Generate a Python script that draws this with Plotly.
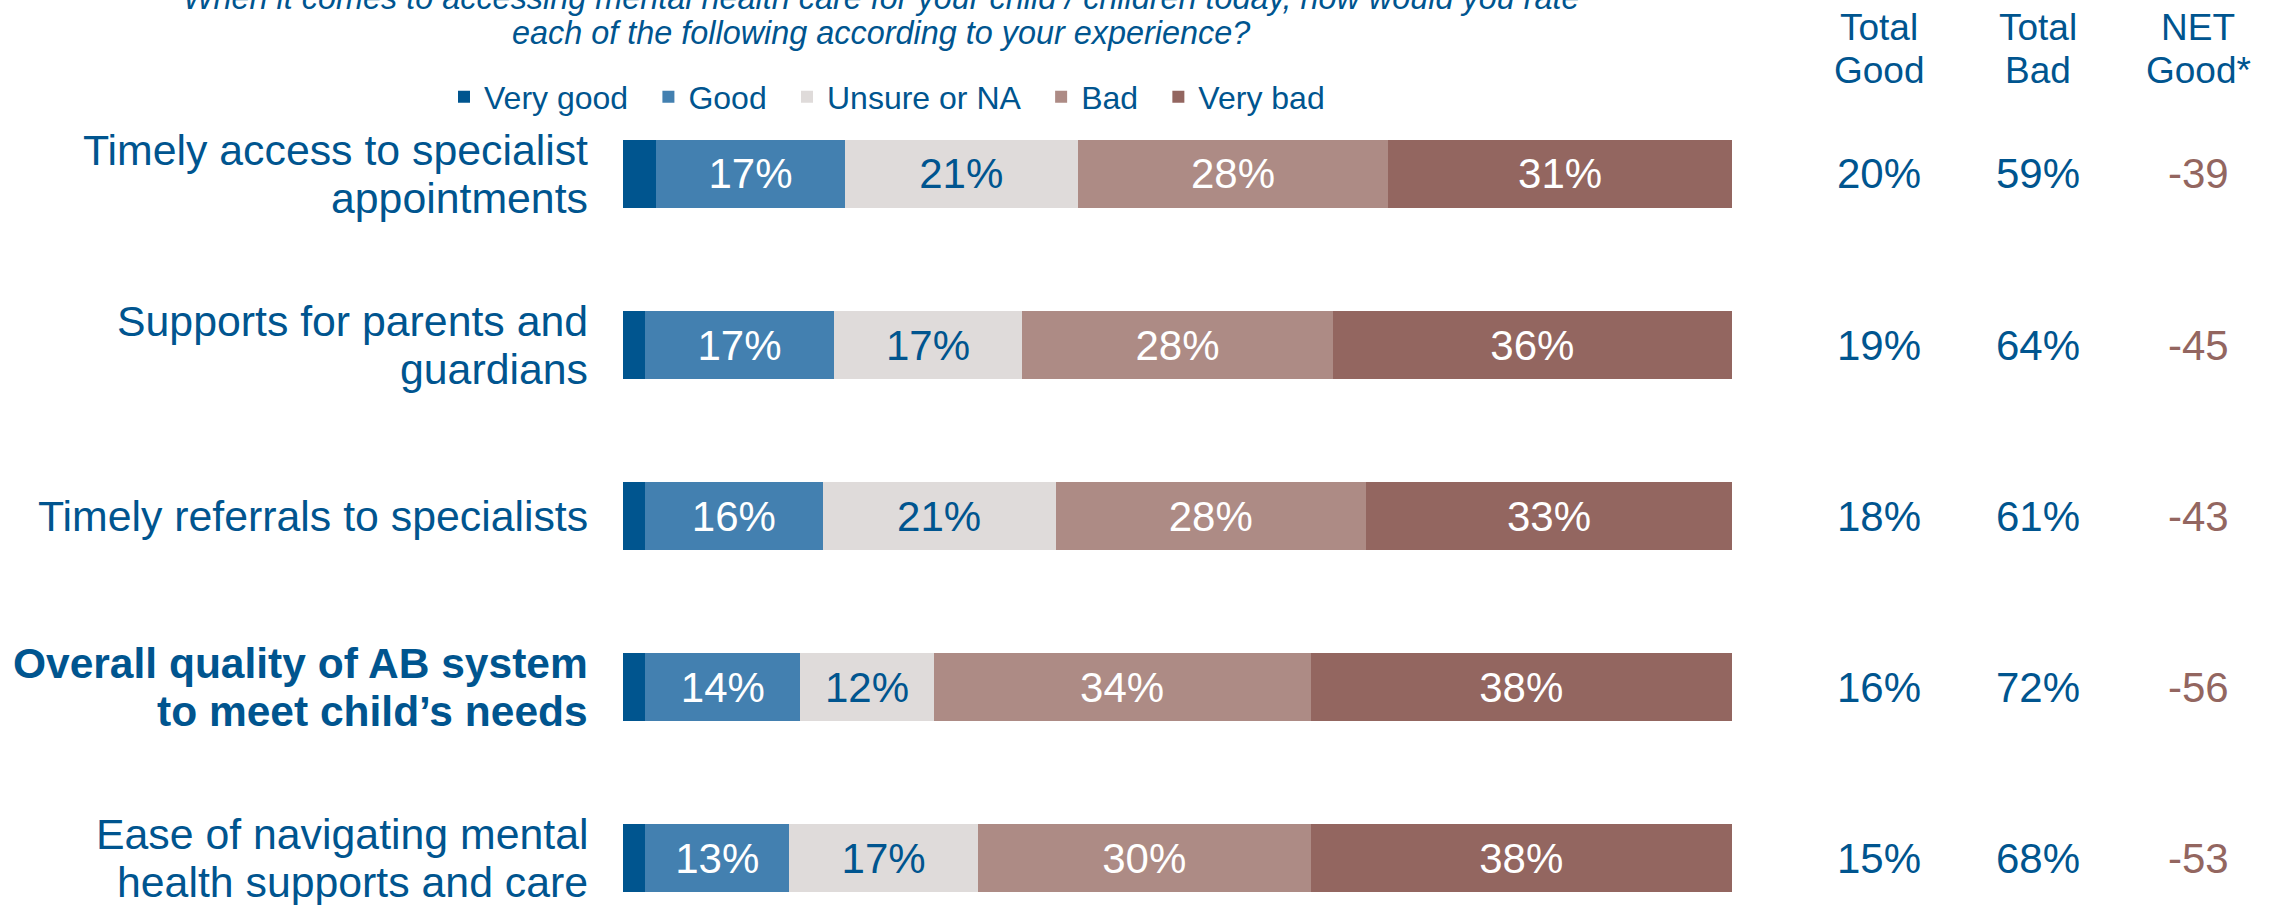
import plotly.graph_objects as go

# Survey items (top to bottom)
items = [
    ["Timely access to specialist", "appointments"],
    ["Supports for parents and", "guardians"],
    ["Timely referrals to specialists"],
    ["Overall quality of AB system", "to meet child’s needs"],
    ["Ease of navigating mental", "health supports and care"],
]
highlight = [False, False, False, True, False]

# Response shares (%)
very_good = [3, 2, 2, 2, 2]
good = [17, 17, 16, 14, 13]
unsure = [21, 17, 21, 12, 17]
bad = [28, 28, 28, 34, 30]
very_bad = [31, 36, 33, 38, 38]

series_names = ["Very good", "Good", "Unsure or NA", "Bad", "Very bad"]
series_values = [very_good, good, unsure, bad, very_bad]
series_colors = ["#00558F", "#4380B0", "#DFDBDA", "#AD8B85", "#936660"]
label_colors = [None, "#FFFFFF", "#00558F", "#FFFFFF", "#FFFFFF"]

title_lines = [
    "When it comes to accessing mental health care for your child / children today, how would you rate",
    "each of the following according to your experience?",
]
column_headers = [["Total", "Good"], ["Total", "Bad"], ["NET", "Good*"]]

BLUE = "#00558F"
BROWN = "#936660"
FONT = "Arial, Liberation Sans, sans-serif"

W, H = 2274, 905
ML, MR, MT, MB = 623, 542, 130, 0
plot_h = H - MT - MB


def py(pixel_y):
    """Convert a pixel row (from top) to paper y."""
    return (H - MB - pixel_y) / plot_h


def px(pixel_x):
    """Convert a pixel column to paper x."""
    return (pixel_x - ML) / (W - ML - MR)


cats = list(range(len(items)))
GAP = "\u00a0\u2009"

fig = go.Figure()
for k, (name, vals, col, lcol) in enumerate(zip(series_names, series_values, series_colors, label_colors)):
    legend_name = name if k == len(series_names) - 1 else name + GAP
    fig.add_trace(go.Bar(
        y=cats,
        x=vals,
        name=legend_name,
        orientation="h",
        marker=dict(color=col, line=dict(width=0)),
        text=[f"{v}%" for v in vals] if lcol else None,
        textposition="inside" if lcol else "none",
        insidetextanchor="middle",
        textangle=0,
        textfont=dict(size=42, color=lcol or "#FFFFFF", family=FONT),
        hoverinfo="skip",
    ))

annotations = []

# Category labels, one annotation per line
for i, lines in enumerate(items):
    shifts = [0] if len(lines) == 1 else [24, -24]
    for line, sh in zip(lines, shifts):
        txt = f"<b>{line}</b>" if highlight[i] else line
        annotations.append(dict(
            x=px(590), xref="paper", y=i, yref="y",
            text=txt, showarrow=False, xanchor="right", yanchor="middle",
            yshift=sh, font=dict(size=42.5 if highlight[i] else 42.8, color=BLUE, family=FONT),
        ))

# Summary columns
col_x = [px(1879), px(2038), px(2198)]
for i in cats:
    tg = very_good[i] + good[i]
    tb = bad[i] + very_bad[i]
    net = tg - tb
    vals = [(f"{tg}%", BLUE), (f"{tb}%", BLUE), (f"{net}", BROWN)]
    for cx, (txt, c) in zip(col_x, vals):
        annotations.append(dict(
            x=cx, xref="paper", y=i, yref="y", text=txt, showarrow=False,
            xanchor="center", yanchor="middle",
            font=dict(size=42, color=c, family=FONT),
        ))

for cx, hdr in zip(col_x, column_headers):
    for line, yc in zip(hdr, [27, 70]):
        annotations.append(dict(
            x=cx, xref="paper", y=py(yc), yref="paper", text=line, showarrow=False,
            xanchor="center", yanchor="middle",
            font=dict(size=37, color=BLUE, family=FONT),
        ))

# Question text
for line, yc in zip(title_lines, [-2, 33]):
    annotations.append(dict(
        x=px(881), xref="paper", y=py(yc), yref="paper", text=f"<i>{line}</i>",
        showarrow=False, xanchor="center", yanchor="middle",
        font=dict(size=32.4, color=BLUE, family=FONT),
    ))

fig.update_layout(
    width=W, height=H,
    margin=dict(l=ML, r=MR, t=MT, b=MB, pad=0),
    barmode="stack",
    bargap=0.603,
    plot_bgcolor="white",
    paper_bgcolor="white",
    font=dict(family=FONT, color=BLUE),
    showlegend=True,
    legend=dict(
        orientation="h", x=px(887), xanchor="center", y=py(97), yanchor="middle",
        traceorder="normal", font=dict(size=32, color=BLUE, family=FONT),
        itemclick=False, itemdoubleclick=False, bgcolor="rgba(0,0,0,0)",
    ),
    xaxis=dict(range=[0, 100], visible=False, fixedrange=True),
    yaxis=dict(range=[4.272, -0.257], visible=False, fixedrange=True),
    annotations=annotations,
)

fig.write_html("out.html", config={"displayModeBar": False})
